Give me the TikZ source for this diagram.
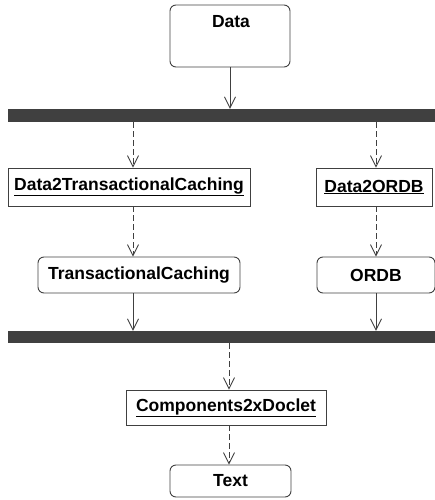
\documentclass[tikz,border=0pt]{standalone}
\usepackage{fontspec}
\setmainfont{Liberation Sans}
\usetikzlibrary{arrows.meta}
\definecolor{ln}{HTML}{404040}
\begin{document}
\begin{tikzpicture}[x=1pt,y=-1pt,
  every node/.style={font=\fontsize{17.5}{20}\selectfont\bfseries, text=black, inner sep=0pt},
  rbox/.style={draw=ln, line width=0.9pt, rounded corners=6pt},
  sbox/.style={draw=ln, line width=0.9pt},
  barbox/.style={fill=ln, draw=none},
  arr/.style={draw=ln, line width=0.9pt, -{Straight Barb[length=11pt,width=11pt,line width=0.9pt]}},
  darr/.style={arr, dash pattern=on 6pt off 3pt}]
\useasboundingbox (0,0) rectangle (435,500);
\node[rbox, minimum width=120pt, minimum height=62pt] (data) at (230,36) {};
\node[anchor=north] (datal) at (231,15) {Data};
\node[barbox, minimum width=427pt, minimum height=13pt] (bar1) at (221.5,115.5) {};
\node[sbox, minimum width=242pt, minimum height=38pt] (d2tc) at (129,187) {\underline{Data2TransactionalCaching}};
\node[sbox, minimum width=116pt, minimum height=38pt] (d2o) at (374,187) {\underline{Data2ORDB}};
\node[rbox, minimum width=202pt, minimum height=36pt] (tc) at (139,275) {TransactionalCaching};
\node[rbox, minimum width=118pt, minimum height=36pt] (ordb) at (376,275) {ORDB};
\node[barbox, minimum width=427pt, minimum height=12pt] (bar2) at (221.5,337) {};
\node[sbox, minimum width=200pt, minimum height=35pt] (c2x) at (226,407.5) {\underline{Components2xDoclet}};
\node[rbox, minimum width=121pt, minimum height=32pt] (txt) at (230.5,481) {Text};
\coordinate (xa) at (230,0);
\coordinate (xl) at (133,0);
\coordinate (xr) at (376,0);
\coordinate (xc) at (229,0);
\draw[arr] (xa |- data.south) -- (xa |- bar1.north);
\draw[darr] (xl |- bar1.south) -- (xl |- d2tc.north);
\draw[darr] (xr |- bar1.south) -- (xr |- d2o.north);
\draw[darr] (xl |- d2tc.south) -- (xl |- tc.north);
\draw[darr] (xr |- d2o.south) -- (xr |- ordb.north);
\draw[arr] (xl |- tc.south) -- (xl |- bar2.north);
\draw[arr] (xr |- ordb.south) -- (xr |- bar2.north);
\draw[darr] (xc |- bar2.south) -- (xc |- c2x.north);
\draw[darr] (xc |- c2x.south) -- (xc |- txt.north);
\end{tikzpicture}
\end{document}
